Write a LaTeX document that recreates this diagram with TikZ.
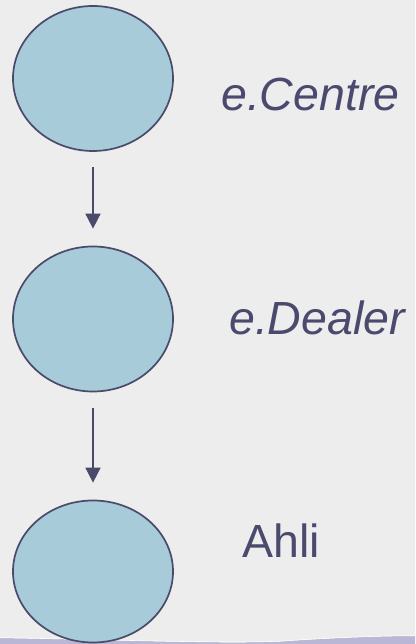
\documentclass[tikz,border=0pt]{standalone}
\usepackage{fontspec}
\setmainfont{Liberation Sans}
\usetikzlibrary{shapes.geometric,arrows.meta}
\definecolor{bgc}{HTML}{EDEDED}
\definecolor{bandc}{HTML}{B9B7D5}
\definecolor{fillc}{HTML}{A7CBD9}
\definecolor{linec}{HTML}{4A4A6A}
\definecolor{textc}{HTML}{4A4A6E}
\tikzset{
  bubble/.style={ellipse, draw=linec, fill=fillc, line width=1.7pt,
    minimum width=160pt, minimum height=145pt, inner sep=0pt},
  flow/.style={draw=linec, line width=1.6pt, -{Triangle[length=15pt,width=15pt]}},
  lbl/.style={anchor=base west, inner sep=0pt, text=textc, font=\fontsize{46.5}{55}\selectfont}
}
\begin{document}
\begin{tikzpicture}[x=1pt,y=1pt]
\useasboundingbox (0,0) rectangle (415,644);
\fill[bgc] (0,0) rectangle (415,644);
% bottom band
\fill[bandc] (0,0) -- (0,6) .. controls (120,4) and (220,0) .. (280,2.5) .. controls (330,6) and (380,8) .. (415,8) -- (415,0) -- cycle;
\draw[white, line width=0.6pt] (0,6.3) .. controls (120,4.3) and (220,0.3) .. (280,2.8) .. controls (330,6.3) and (380,8.3) .. (415,8.3);
% nodes
\node[bubble] (c) at (93,565.5) {};
\node[bubble] (d) at (93,325) {};
\node[bubble, minimum height=142pt] (a) at (93,72.5) {};
\node[lbl] (tc) at (221,533.5) {\itshape e.Centre};
\node[lbl] (td) at (229,309) {\itshape e.Dealer};
\node[lbl] (ta) at (242,86) {Ahli};
% connectors
\draw[flow, shorten <=15pt, shorten >=17pt] (c.south) -- (d.north);
\draw[flow, shorten <=16pt, shorten >=17pt] (d.south) -- (a.north);
\end{tikzpicture}
\end{document}
